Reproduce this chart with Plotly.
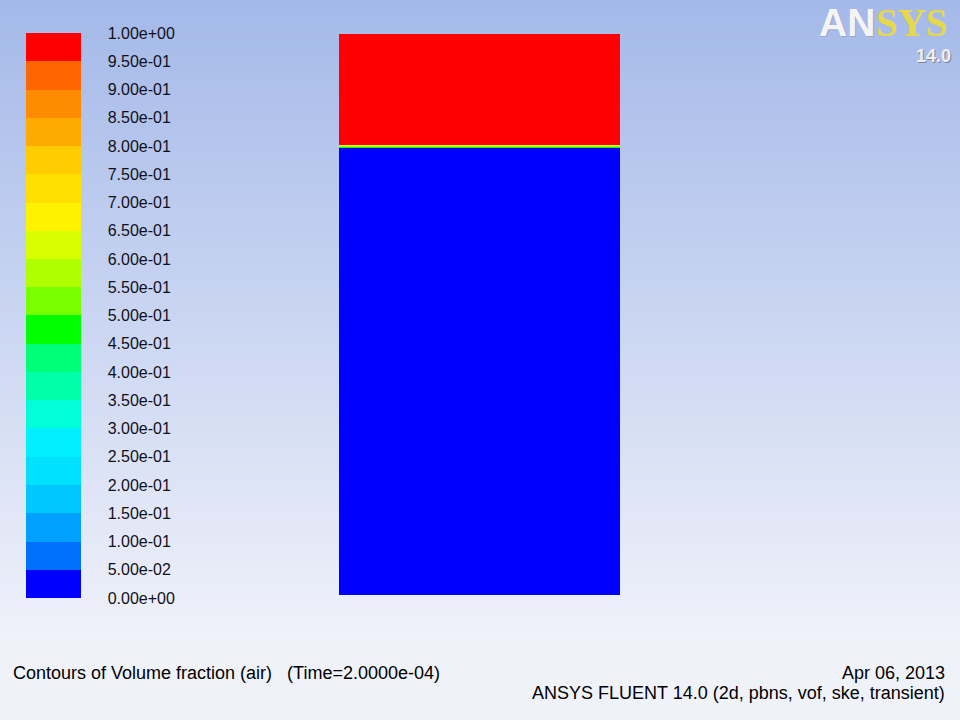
import numpy as np
import plotly.graph_objects as go

# contour levels of the air volume fraction legend (20 bands)
levels = [round(i * 0.05, 2) for i in range(21)]
level_labels = [f"{v:.2e}" for v in levels]
band_colors = ['#0000FF', '#0070FF', '#00A0FF', '#00C8FF', '#00E0FF',
               '#00F0FF', '#00FFD8', '#00FFA8', '#00FF78', '#00FF00',
               '#78FF00', '#B0FF00', '#D8FF00', '#FFF200', '#FFE000',
               '#FFCC00', '#FFAA00', '#FF8C00', '#FF6600', '#FF0000']

# tank section (m) and air volume fraction along its height
tank_x_edges = [0.0, 0.05]
tank_y_edges = [0.0, 0.0796, 0.0798, 0.0800, 0.0802, 0.10]
air_fraction = [0.0, 0.47, 0.58, 0.66, 1.0]

W, H = 960, 720


def px_x(p):
    return p / W


def px_y(p):
    return 1 - p / H


colorscale = []
for i, c in enumerate(band_colors):
    colorscale.append([i / 20, c])
    colorscale.append([(i + 1) / 20, c])

fig = go.Figure()

# window background gradient
bg_rows = np.arange(0, 721, 8)
bg_z = np.clip(bg_rows / 640.0, 0, 1)
fig.add_trace(go.Heatmap(
    x=[0, 1], y=bg_rows, z=[[v, v] for v in bg_z],
    colorscale=[[0, '#A4B9E9'], [1, '#F0F2FA']],
    zsmooth='best', showscale=False, hoverinfo='skip',
    xaxis='x', yaxis='y'
))

# contour field of the tank
fig.add_trace(go.Heatmap(
    x=tank_x_edges, y=tank_y_edges,
    z=[[v] for v in air_fraction],
    zmin=0, zmax=1, colorscale=colorscale,
    xaxis='x2', yaxis='y2',
    colorbar=dict(
        x=px_x(26), xanchor='left', xref='paper',
        y=px_y(33), yanchor='top', yref='paper',
        len=565 / H, lenmode='fraction',
        thickness=55, thicknessmode='pixels',
        xpad=0, ypad=0, outlinewidth=0,
        bgcolor='rgba(0,0,0,0)',
        tickvals=levels, ticktext=level_labels,
        ticks='outside', ticklen=24, tickcolor='rgba(0,0,0,0)',
        tickfont=dict(family='Arial, Liberation Sans', size=16, color='#101018')
    )
))

font = dict(family='Arial, Liberation Sans', size=18, color='#000000')
annotations = [
    dict(x=px_x(12), y=px_y(673), xanchor='left', yanchor='middle',
         text='Contours of Volume fraction (air)\u00a0\u00a0\u00a0(Time=2.0000e-04)', font=font),
    dict(x=px_x(946), y=px_y(673), xanchor='right', yanchor='middle',
         text='Apr 06, 2013', font=font),
    dict(x=px_x(946), y=px_y(693), xanchor='right', yanchor='middle',
         text='ANSYS FLUENT 14.0 (2d, pbns, vof, ske, transient)', font=font),
    # logo
    dict(x=px_x(877), y=px_y(1), xanchor='right', yanchor='top',
         text='<b>AN</b>', font=dict(family='Liberation Sans', size=39, color='#9AA6C4')),
    dict(x=px_x(876), y=px_y(0), xanchor='right', yanchor='top',
         text='<b>AN</b>', font=dict(family='Liberation Sans', size=39, color='#F4F4F6')),
    dict(x=px_x(875), y=px_y(0), xanchor='left', yanchor='top',
         text='<b>SYS</b>', font=dict(family='Liberation Serif', size=39, color='#E6D848')),
    dict(x=px_x(953), y=px_y(57), xanchor='right', yanchor='middle',
         text='<b>14.0</b>', font=dict(family='Liberation Sans', size=18, color='#7A869E')),
    dict(x=px_x(952), y=px_y(56), xanchor='right', yanchor='middle',
         text='<b>14.0</b>', font=dict(family='Liberation Sans', size=18, color='#EEEEF0')),
]
for a in annotations:
    a.update(xref='paper', yref='paper', showarrow=False, borderpad=0)

hidden = dict(visible=False, showgrid=False, zeroline=False, fixedrange=True)
fig.update_layout(
    width=W, height=H,
    margin=dict(l=0, r=0, t=0, b=0),
    paper_bgcolor='#F0F2FA', plot_bgcolor='rgba(0,0,0,0)',
    xaxis=dict(domain=[0, 1], range=[0, 1], **hidden),
    yaxis=dict(domain=[0, 1], range=[720, 0], **hidden),
    xaxis2=dict(domain=[px_x(339), px_x(620)], range=[0, 0.05], anchor='y2', **hidden),
    yaxis2=dict(domain=[px_y(595), px_y(34)], range=[0, 0.10], anchor='x2', **hidden),
    annotations=annotations,
    showlegend=False,
)

fig.write_html("out.html", config={'displayModeBar': False},
               post_script="document.body.style.margin='0';document.body.style.overflow='hidden';")
